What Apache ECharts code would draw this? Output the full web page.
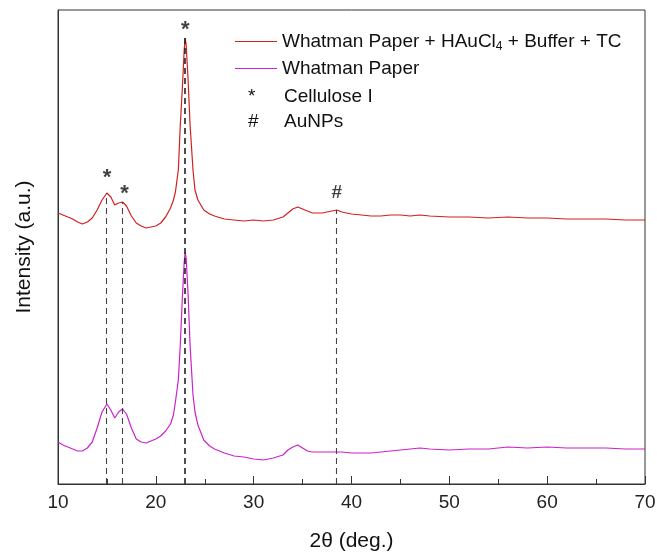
<!DOCTYPE html>
<html>
<head>
<meta charset="utf-8">
<script src="https://cdn.jsdelivr.net/npm/echarts@6/dist/echarts.min.js"></script>
<style>
  html, body { margin: 0; padding: 0; background: #fff; }
  #main { width: 657px; height: 554px; }
</style>
</head>
<body>
<div id="main"></div>
<script>
// 2θ positions (deg.)
var twoTheta = [10,10.5,11,11.5,12,12.5,13,13.5,14,14.5,15,15.4,15.8,16.2,16.6,17,17.5,18,18.5,19,19.5,20,20.5,21,21.5,21.8,22,22.3,22.5,22.7,22.9,23,23.1,23.3,23.5,23.8,24,24.3,24.9,25.5,26,27,28,29,30,31,32,33,33.5,34,34.5,35,35.5,36,37,38,38.5,39,40,41,42,43,44,45,46,47,48,50,52,54,56,58,60,62,64,66,68,70];
// Whatman Paper + HAuCl4 + Buffer + TC (offset up)
var redVals = [271,269,267,265,262,260,262,266,274,284,291,287,279,281,282,278,268,261,258,256,257,258,261,267,276,284,292,314,359,394,434,446,439,404,359,314,294,284,274,270,268,265,264,263,264,263,264,267,271,275,277,275,273,271,271,273,274,272,270,269,268,268,269,269,268,269,268,267,267,266,267,266,266,265,265,265,264,264];
// Whatman Paper
var pinkVals = [42,39,37,35,33,33,36,42,56,72,80,74,66,72,75,70,56,45,42,41,43,45,48,53,60,69,82,104,139,184,222,232,226,189,139,89,72,59,44,38,35,31,28,27,25,24,26,29,34,37,39,36,33,32,32,32,32,32,31,31,31,32,33,34,35,36,35,34,35,35,37,36,37,36,36,36,35,35];

// dashed guide lines
var guideX = [14.9, 16.6, 23.0, 38.4];
var guideTop = [291, 282, 446, 274];

// peak markers
var celluloseX = [15.0, 16.8, 23.0];
var celluloseY = [306, 290, 454];
var aunpX = [38.5];
var aunpY = [291];

var xTicks = [10, 20, 30, 40, 50, 60, 70];

var redName = 'Whatman Paper + HAuCl4 + Buffer + TC';
var pinkName = 'Whatman Paper';

function pairs(xs, ys) {
    var out = [];
    for (let i = 0; i < xs.length; i++) {
        out.push([xs[i], ys[i]]);
    }
    return out;
}

var guideLines = [];
for (let i = 0; i < guideX.length; i++) {
    guideLines.push([
        {coord: [guideX[i], 0]},
        {coord: [guideX[i], guideTop[i]], lineStyle: {width: i === 2 ? 1.6 : 1.1, color: i === 2 ? '#222' : '#444'}}
    ]);
}

var font = 'Liberation Sans, Arial, sans-serif';

var chart = echarts.init(document.getElementById('main'));
var option = {
    animation: false,
    textStyle: {fontFamily: font},
    grid: {
        left: 58, right: 12, top: 10, bottom: 70,
        outerBoundsMode: 'none',
        containLabel: false,
        show: true, borderColor: '#333', borderWidth: 1
    },
    legend: [{
        data: [redName, pinkName],
        orient: 'vertical',
        left: 230, top: 27,
        itemWidth: 42, itemHeight: 1, itemGap: 6,
        icon: 'rect',
        textStyle: {
            fontSize: 19, color: '#111', fontFamily: font,
            rich: {
                t: {fontSize: 19, color: '#111', fontFamily: font},
                sub: {fontSize: 12, color: '#111', fontFamily: font, verticalAlign: 'bottom', padding: [11, 0, 0, 0]}
            }
        },
        formatter: function (name) {
            if (name === redName) {
                return '{t|Whatman Paper + HAuCl}{sub|4}{t| + Buffer + TC}';
            }
            return '{t|' + name + '}';
        }
    }, {
        data: [{name: 'Cellulose I', icon: 'none'}, {name: 'AuNPs', icon: 'none'}],
        orient: 'vertical',
        left: 238, top: 82,
        itemWidth: 0, itemHeight: 1, itemGap: 6,
        textStyle: {
            fontSize: 19, color: '#111', fontFamily: font,
            rich: {
                s: {fontSize: 19, color: '#111', width: 36, align: 'left', fontFamily: font},
                t: {fontSize: 19, color: '#111', fontFamily: font}
            }
        },
        formatter: function (name) {
            return '{s|' + (name === 'AuNPs' ? '#' : '*') + '}{t|' + name + '}';
        }
    }],
    xAxis: {
        type: 'value',
        min: 10, max: 70, interval: 10,
        name: '2\u03b8 (deg.)',
        nameLocation: 'middle', nameGap: 47,
        nameTextStyle: {fontSize: 21, color: '#111', fontFamily: font},
        axisLine: {show: true, lineStyle: {color: '#333', width: 1}},
        axisTick: {show: true, inside: true, length: 8, lineStyle: {color: '#333'}},
        minorTick: {show: true, splitNumber: 2, length: 5, lineStyle: {color: '#333'}},
        axisLabel: {
            fontSize: 19, color: '#222', margin: 9, fontFamily: font,
            formatter: function (v) { return xTicks.indexOf(v) >= 0 ? String(v) : ''; }
        },
        splitLine: {show: false}
    },
    yAxis: {
        type: 'value',
        min: 0, max: 474,
        name: 'Intensity (a.u.)',
        nameLocation: 'middle', nameGap: 23,
        nameTextStyle: {fontSize: 21, color: '#111', fontFamily: font},
        axisLine: {show: true, lineStyle: {color: '#333', width: 1}},
        axisTick: {show: false},
        axisLabel: {show: false},
        splitLine: {show: false}
    },
    series: [
        {
            name: redName,
            type: 'line',
            data: pairs(twoTheta, redVals),
            showSymbol: false,
            lineStyle: {color: '#d21f1f', width: 1.2},
            itemStyle: {color: '#d21f1f'},
            z: 2
        },
        {
            name: pinkName,
            type: 'line',
            data: pairs(twoTheta, pinkVals),
            showSymbol: false,
            lineStyle: {color: '#cc22cc', width: 1.2},
            itemStyle: {color: '#cc22cc'},
            z: 2
        },
        {
            name: 'guides',
            type: 'line',
            data: [],
            z: 5,
            markLine: {
                silent: true,
                symbol: 'none',
                label: {show: false},
                lineStyle: {type: [6, 4], color: '#444', width: 1.1},
                data: guideLines
            }
        },
        {
            name: 'Cellulose I',
            type: 'scatter',
            data: pairs(celluloseX, celluloseY),
            symbolSize: 0,
            itemStyle: {color: '#111'},
            label: {show: true, position: 'inside', formatter: '*', fontSize: 22, fontWeight: 'bold', color: '#111', fontFamily: font}
        },
        {
            name: 'AuNPs',
            type: 'scatter',
            data: pairs(aunpX, aunpY),
            symbolSize: 0,
            itemStyle: {color: '#111'},
            label: {show: true, position: 'inside', formatter: '#', fontSize: 19, fontWeight: 'bold', color: '#111', fontFamily: font}
        }
    ]
};
chart.setOption(option);
</script>
</body>
</html>
